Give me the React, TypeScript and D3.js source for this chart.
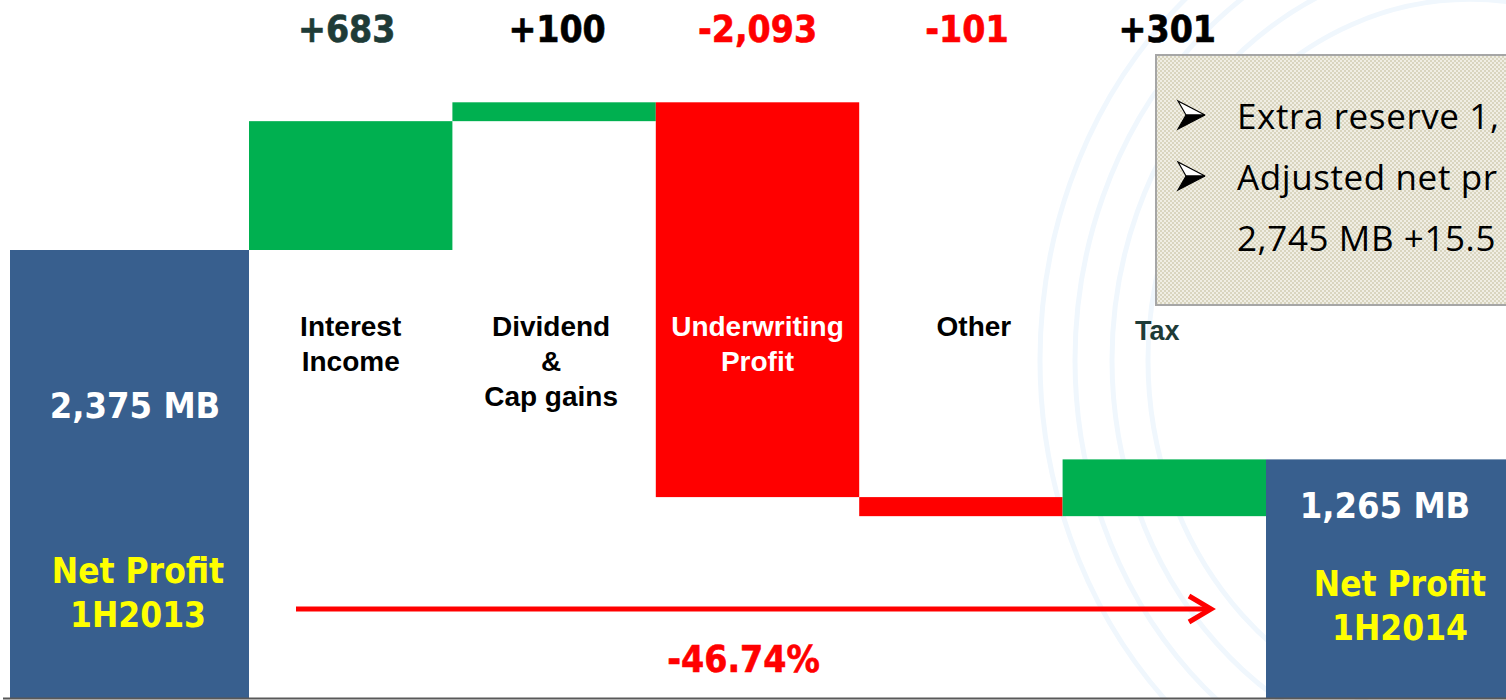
import React from "react";
import * as d3 from "d3";

// ---- data ----
const startValue = 2375;
const endValue = 1265;
const deltaKeys = ["interest", "dividend", "underwriting", "other", "tax"];
const deltaValues = [683, 100, -2093, -101, 301];
const deltaLabels = ["+683", "+100", "-2,093", "-101", "+301"];
const deltaLabelColors = ["#1e3b37", "#000000", "#ff0000", "#ff0000", "#000000"];
const categoryLabels = [["Interest", "Income"], ["Dividend", "&", "Cap gains"], ["Underwriting", "Profit"], ["Other"], ["Tax"]];
const categoryLabelColors = ["#000000", "#000000", "#ffffff", "#000000", "#1e3b37"];
const totalLabels = ["2,375 MB", "1,265 MB"];
const totalTitles = [["Net Profit", "1H2013"], ["Net Profit", "1H2014"]];
const changeLabel = "-46.74%";
const noteLines = ["Extra reserve 1,", "Adjusted net pr", "2,745 MB +15.5"];
const noteBullets = [true, true, false];

// ---- style ----
const W = 1506, H = 700;
const BLUE = "#385f8e", GREEN = "#00b050", RED = "#ff0000", YELLOW = "#ffff00";
const COND = "'DejaVu Sans Condensed', 'DejaVu Sans', Verdana, sans-serif";
const ARIAL = "'Liberation Sans', Arial, sans-serif";
const labelNudge = [-4, 3, 0, 6, 3];
const catNudge = [0, -3, 0, 13, -7];

export default function App() {
  const y = d3.scaleLinear().domain([0, startValue]).range([698, 250]);
  const x = d3.scaleBand<string>().domain(deltaKeys).range([249, 1266]).paddingInner(0);
  const bw = x.bandwidth();
  const totalW = 239;

  let run = startValue;
  const steps = deltaValues.map((v, i) => {
    const from = run;
    run += v;
    return { key: deltaKeys[i], from, to: run, v };
  });

  const firstX0 = (x(deltaKeys[0]) as number) - totalW;
  const lastX0 = (x(deltaKeys[deltaKeys.length - 1]) as number) + bw;

  const arcs = [430, 395, 358, 322];

  const arrowY = 609;
  const arrowX0 = (x(deltaKeys[0]) as number) + 47;
  const arrowX1 = lastX0 - 55;

  const bullet = (bx: number, by: number) => {
    const tip = [bx + 27, by];
    const tl = [bx, by - 14];
    const notch = [bx + 8, by];
    const bl = [bx, by + 14];
    return (
      <g>
        <polygon points={`${tip} ${tl} ${notch}`} fill="#fff" stroke="#000" strokeWidth={1.2} />
        <polygon points={`${tip} ${notch} ${bl}`} fill="#000" stroke="#000" strokeWidth={1.2} />
      </g>
    );
  };

  return (
    <svg width={W} height={H} style={{ position: "absolute", left: 0, top: 0, background: "#fff" }}>
      <defs>
        <pattern id="chk" width="4" height="4" patternUnits="userSpaceOnUse">
          <rect width="4" height="4" fill="#d9d5bf" />
          <rect width="2" height="2" fill="#f0eee4" />
          <rect x="2" y="2" width="2" height="2" fill="#f0eee4" />
        </pattern>
      </defs>
      {/* watermark arcs */}
      <g fill="none" stroke="#f0f7fd" strokeWidth={5}>
        {arcs.map((rx, i) => (
          <ellipse key={i} cx={1470} cy={360} rx={rx} ry={rx * 1.12} />
        ))}
      </g>

      {/* top delta labels */}
      {steps.map((s, i) => (
        <text key={"dl" + i} x={(x(s.key) as number) + bw / 2 + labelNudge[i]} y={42} textAnchor="middle"
          fontFamily={COND} fontWeight="bold" fontSize={37} fill={deltaLabelColors[i]}
          stroke={deltaLabelColors[i]} strokeWidth={0.6}>
          {deltaLabels[i]}
        </text>
      ))}

      {/* total bars */}
      <rect x={firstX0} y={y(startValue)} width={totalW} height={y(0) - y(startValue)} fill={BLUE} />
      <rect x={lastX0} y={y(endValue)} width={totalW + 2} height={y(0) - y(endValue)} fill={BLUE} />

      {/* delta bars */}
      {steps.map((s, i) => (
        <rect key={"b" + i} x={x(s.key)} y={y(Math.max(s.from, s.to))} width={bw}
          height={Math.abs(y(s.from) - y(s.to))} fill={s.v >= 0 ? GREEN : RED} />
      ))}

      {/* category labels */}
      {categoryLabels.map((lines, i) => {
        const cx = (x(deltaKeys[i]) as number) + bw / 2 + catNudge[i];
        return (
          <text key={"cl" + i} x={cx} y={i === 4 ? 340 : 336} textAnchor="middle"
            fontFamily={ARIAL} fontWeight="bold" fontSize={i === 4 ? 27 : 28} fill={categoryLabelColors[i]}>
            {lines.map((l, j) => (
              <tspan key={j} x={cx} dy={j === 0 ? 0 : 35}>{l}</tspan>
            ))}
          </text>
        );
      })}

      {/* total labels */}
      <text x={firstX0 + 125} y={418} textAnchor="middle" fontFamily={COND} fontWeight="bold" fontSize={36} fill="#fff">{totalLabels[0]}</text>
      <text x={firstX0 + 128} y={583} textAnchor="middle" fontFamily={COND} fontWeight="bold" fontSize={35} fill={YELLOW}>
        <tspan x={firstX0 + 128} dy={0}>{totalTitles[0][0]}</tspan>
        <tspan x={firstX0 + 128} dy={44}>{totalTitles[0][1]}</tspan>
      </text>
      <text x={lastX0 + 119} y={518} textAnchor="middle" fontFamily={COND} fontWeight="bold" fontSize={36} fill="#fff">{totalLabels[1]}</text>
      <text x={lastX0 + 134} y={596} textAnchor="middle" fontFamily={COND} fontWeight="bold" fontSize={35} fill={YELLOW}>
        <tspan x={lastX0 + 134} dy={0}>{totalTitles[1][0]}</tspan>
        <tspan x={lastX0 + 134} dy={44}>{totalTitles[1][1]}</tspan>
      </text>

      {/* change arrow */}
      <line x1={arrowX0} x2={arrowX1} y1={arrowY} y2={arrowY} stroke={RED} strokeWidth={5} />
      <polyline points={`${arrowX1 - 22},${arrowY - 13} ${arrowX1},${arrowY} ${arrowX1 - 22},${arrowY + 13}`}
        fill="none" stroke={RED} strokeWidth={5} />
      <text x={(arrowX0 + arrowX1) / 2 - 10} y={672} textAnchor="middle" fontFamily={COND} fontWeight="bold" fontSize={37} fill={RED}
        stroke={RED} strokeWidth={0.6}>{changeLabel}</text>

      {/* note box */}
      <rect x={1156} y={55} width={400} height={250} fill="url(#chk)" stroke="#a6a6a6" strokeWidth={2} />
      {noteLines.map((l, i) => (
        <g key={"n" + i}>
          {noteBullets[i] && bullet(1178, 115 + i * 61)}
          <text x={1237} y={129 + i * 61} fontFamily="'Open Sans', Lato, sans-serif" fontSize={35} letterSpacing={0.6} fill="#000">{l}</text>
        </g>
      ))}

      {/* baseline */}
      <line x1={3} x2={W} y1={698.5} y2={698.5} stroke="#595959" strokeWidth={2} />
    </svg>
  );
}
